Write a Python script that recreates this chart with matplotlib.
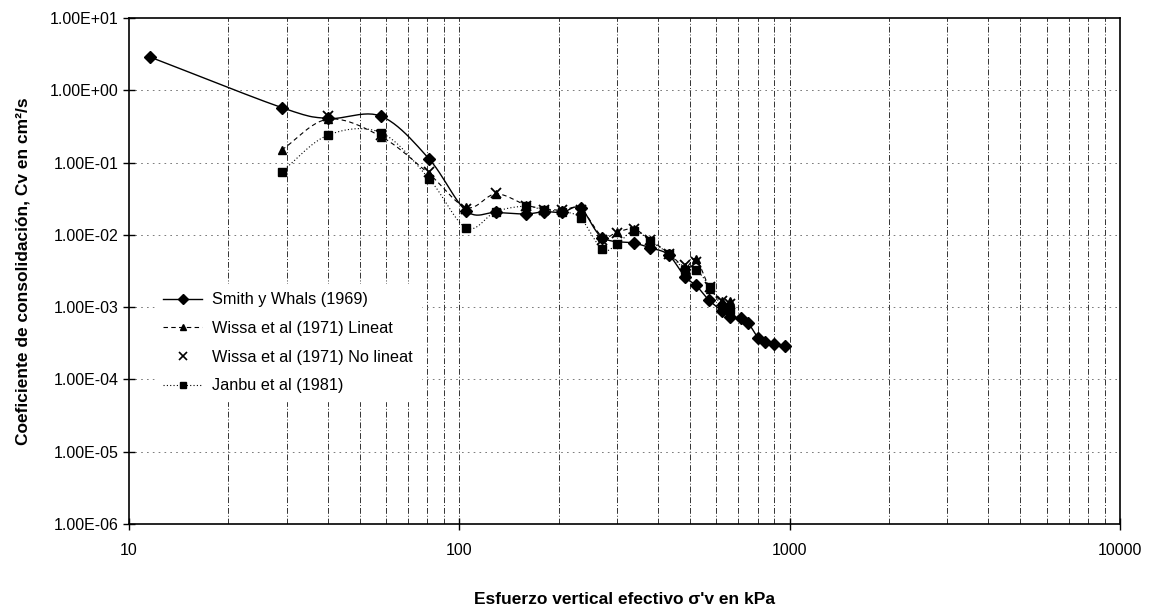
import matplotlib
matplotlib.use('Agg')
import matplotlib.pyplot as plt
import numpy as np

plt.rcParams['font.family'] = ['Liberation Sans', 'DejaVu Sans']

# Smith y Whals (1969)
smith_x = [11.6, 29, 40, 58, 81, 105, 129, 159, 181, 205, 233, 271, 338, 379, 430,
           483, 521, 569, 625, 662, 715, 750, 805, 843, 895, 970]
smith_y = [2.9, 0.58, 0.41, 0.44, 0.113, 0.0215, 0.0205, 0.0195, 0.021, 0.0205, 0.0235,
           0.0092, 0.0077, 0.0066, 0.0053, 0.0026, 0.0020, 0.00126, 0.00088, 0.00072,
           0.00070, 0.00060, 0.00037, 0.00033, 0.00031, 0.000285]

# Wissa et al (1971) lineal
wl_x = [29, 40, 58, 81, 105, 129, 159, 181, 205, 233, 271, 301, 338, 379, 430, 483, 521, 574, 625, 662]
wl_y = [0.15, 0.40, 0.23, 0.07, 0.024, 0.037, 0.026, 0.023, 0.022, 0.023, 0.0095, 0.011,
        0.012, 0.0085, 0.0056, 0.0036, 0.0046, 0.0018, 0.0012, 0.0012]

# Wissa et al (1971) no lineal
wn_x = [40, 58, 81, 105, 129, 159, 181, 205, 233, 271, 301, 338, 379, 430, 483, 521, 574, 625, 662]
wn_y = [0.45, 0.24, 0.075, 0.023, 0.038, 0.025, 0.022, 0.022, 0.022, 0.0085, 0.0105, 0.012,
        0.0085, 0.0055, 0.0038, 0.0042, 0.0019, 0.0012, 0.0011]

# Janbu et al (1981)
jb_x = [29, 40, 58, 81, 105, 129, 159, 181, 205, 233, 271, 301, 338, 379, 430, 483, 521, 574, 625, 662]
jb_y = [0.075, 0.24, 0.26, 0.06, 0.0125, 0.021, 0.025, 0.022, 0.021, 0.017, 0.0063, 0.0075,
        0.0115, 0.0082, 0.0055, 0.0033, 0.0033, 0.0019, 0.0010, 0.0009]

labels = ['Smith y Whals (1969)', 'Wissa et al (1971) Lineat',
          'Wissa et al (1971) No lineat', 'Janbu et al (1981)']


def smooth(xs, ys, n=12):
    # curva suavizada tipo Excel (Catmull-Rom en escala log)
    lx = np.log10(xs)
    ly = np.log10(ys)
    px = np.concatenate([[2*lx[0]-lx[1]], lx, [2*lx[-1]-lx[-2]]])
    py = np.concatenate([[2*ly[0]-ly[1]], ly, [2*ly[-1]-ly[-2]]])
    outx, outy = [], []
    t = np.linspace(0, 1, n, endpoint=False)
    for i in range(1, len(px)-2):
        for p, out in ((px, outx), (py, outy)):
            p0, p1, p2, p3 = p[i-1], p[i], p[i+1], p[i+2]
            out.extend(0.5*((2*p1) + (-p0+p2)*t + (2*p0-5*p1+4*p2-p3)*t**2
                            + (-p0+3*p1-3*p2+p3)*t**3))
    outx.append(lx[-1])
    outy.append(ly[-1])
    return 10**np.array(outx), 10**np.array(outy)


fig = plt.figure(figsize=(11.51, 6.09), dpi=100)
ax = fig.add_axes([0.112, 0.140, 0.861, 0.830])
ax.set_xscale('log')
ax.set_yscale('log')
ax.set_xlim(10, 10000)
ax.set_ylim(1e-6, 10)

# rejilla
for d in [10, 100, 1000]:
    for k in range(1, 10):
        v = d*k
        if 10 < v < 10000:
            ax.axvline(v, color='#333333', lw=0.7, ls=(0, (6, 2, 1, 2)), zorder=1)
for e in range(-5, 1):
    ax.axhline(10.0**e, color='#666666', lw=0.6, ls=(0, (2, 5)), zorder=1)

sx, sy = smooth(smith_x, smith_y)
ax.plot(sx, sy, color='black', lw=1.0, zorder=3)
ax.plot(smith_x, smith_y, ls='none', marker='D', ms=6, color='black', zorder=4)

wx, wy = smooth(wl_x, wl_y)
ax.plot(wx, wy, color='black', lw=0.8, ls=(0, (4, 3)), zorder=3)
ax.plot(wl_x, wl_y, ls='none', marker='^', ms=6, color='black', zorder=4)

ax.plot(wn_x, wn_y, ls='none', marker='x', ms=7, mew=1.3, color='black', zorder=4)

jx, jy = smooth(jb_x, jb_y)
ax.plot(jx, jy, color='black', lw=0.8, ls=(0, (1, 2)), zorder=3)
ax.plot(jb_x, jb_y, ls='none', marker='s', ms=6, color='black', zorder=4)

# leyenda
h1, = ax.plot([], [], color='black', lw=1.0, marker='D', ms=5)
h2, = ax.plot([], [], color='black', lw=0.8, ls=(0, (4, 3)), marker='^', ms=5)
h3, = ax.plot([], [], ls='none', color='black', marker='x', ms=6, mew=1.2)
h4, = ax.plot([], [], color='black', lw=0.8, ls=(0, (1, 2)), marker='s', ms=5)
leg = ax.legend([h1, h2, h3, h4], labels, loc='upper left', bbox_to_anchor=(0.018, 0.49),
                frameon=True, framealpha=1, edgecolor='white', fontsize=11.7,
                handlelength=2.4, labelspacing=0.84, borderpad=0.5, handletextpad=0.6)
leg.set_zorder(5)

ax.set_xticks([10, 100, 1000, 10000])
ax.set_xticklabels(['10', '100', '1000', '10000'])
ax.xaxis.set_minor_locator(matplotlib.ticker.NullLocator())
yt = [10.0**e for e in range(-6, 2)]
ax.set_yticks(yt)
ax.set_yticklabels(['%.2E' % v for v in yt])
ax.yaxis.set_minor_locator(matplotlib.ticker.NullLocator())
ax.tick_params(axis='both', which='major', direction='inout', length=8, width=1,
               labelsize=11.5)
ax.tick_params(axis='x', pad=10)

for s in ax.spines.values():
    s.set_linewidth(1.2)

ax.set_xlabel("Esfuerzo vertical efectivo σ'v en kPa", fontsize=12.5, fontweight='bold',
              labelpad=24)
ax.set_ylabel('Coeficiente de consolidación, Cv en cm²/s', fontsize=12.5,
              fontweight='bold', labelpad=14)

plt.savefig('out.png', dpi=100)
